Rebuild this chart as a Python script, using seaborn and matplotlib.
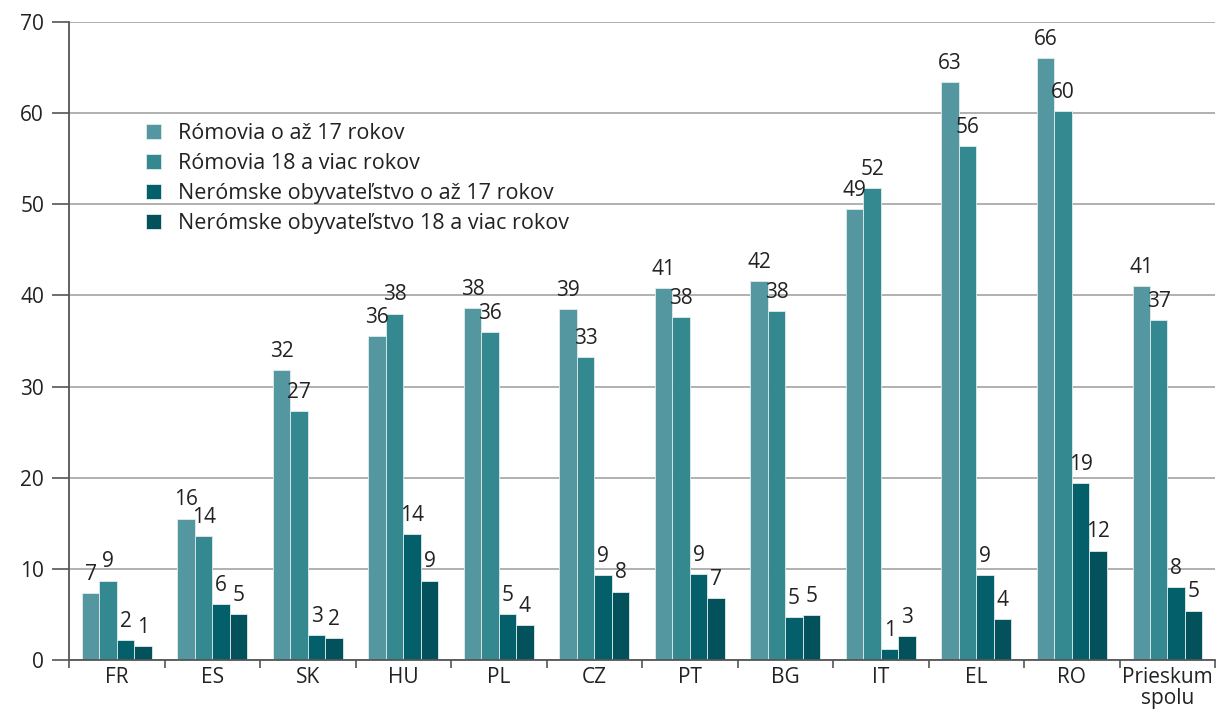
import pandas as pd
import matplotlib
matplotlib.use("Agg")
import matplotlib.pyplot as plt
import matplotlib.ticker as mticker
import seaborn as sns

# ------------------------------------------------------------
# DATA
# ------------------------------------------------------------
countries = ["FR", "ES", "SK", "HU", "PL", "CZ", "PT", "BG", "IT", "EL", "RO",
             "Prieskum\nspolu"]
series = ["Rómovia o až 17 rokov",
          "Rómovia 18 a viac rokov",
          "Nerómske obyvateľstvo o až 17 rokov",
          "Nerómske obyvateľstvo 18 a viac rokov"]

roma_child = [7.3, 15.5, 31.8, 35.5, 38.6, 38.5, 40.8, 41.6, 49.5, 63.4, 66.0, 41.0]
roma_adult = [8.7, 13.6, 27.3, 38.0, 36.0, 33.2, 37.6, 38.3, 51.8, 56.4, 60.2, 37.3]
non_child = [2.2, 6.1, 2.7, 13.8, 5.0, 9.3, 9.4, 4.7, 1.2, 9.3, 19.4, 8.0]
non_adult = [1.5, 5.0, 2.4, 8.7, 3.8, 7.5, 6.8, 4.9, 2.6, 4.5, 12.0, 5.4]

label_roma_child = [7, 16, 32, 36, 38, 39, 41, 42, 49, 63, 66, 41]
label_roma_adult = [9, 14, 27, 38, 36, 33, 38, 38, 52, 56, 60, 37]
label_non_child = [2, 6, 3, 14, 5, 9, 9, 5, 1, 9, 19, 8]
label_non_adult = [1, 5, 2, 9, 4, 8, 7, 5, 3, 4, 12, 5]

colors = ["#5597a0", "#348990", "#035f69", "#02515b"]

# long-form frame for seaborn
values = [roma_child, roma_adult, non_child, non_adult]
labels = [label_roma_child, label_roma_adult, label_non_child, label_non_adult]
rows = []
for s, vals in zip(series, values):
    for c, v in zip(countries, vals):
        rows.append({"country": c, "series": s, "value": v})
df = pd.DataFrame(rows)

# ------------------------------------------------------------
# STYLE
# ------------------------------------------------------------
sns.set_theme(style="white")
plt.rcParams["font.family"] = ["Open Sans", "DejaVu Sans"]
TEXT = "#222222"

fig = plt.figure(figsize=(12.2, 7.22), dpi=100)
ax = fig.add_axes([0.0566, 0.0859, 0.9394, 0.8836])

sns.barplot(
    data=df, x="country", y="value", hue="series",
    order=countries, hue_order=series, palette=colors, saturation=1,
    width=0.73, edgecolor="#e0ecec", linewidth=0.6,
    errorbar=None, ax=ax,
)

# value labels above the bars
for cont, lab in zip(ax.containers, labels):
    ax.bar_label(cont, labels=[str(v) for v in lab], padding=6,
                 fontsize=15, color=TEXT)

ax.set_ylim(0, 70)
ax.set_xlim(-0.5, len(countries) - 0.5)
ax.yaxis.set_major_locator(mticker.MultipleLocator(10))
ax.grid(axis="y", color="#aaaaaa", linewidth=1.3)
ax.set_axisbelow(True)

for side in ["top", "right"]:
    ax.spines[side].set_visible(False)
for side in ["left", "bottom"]:
    ax.spines[side].set_color("#555555")
    ax.spines[side].set_linewidth(1.3)

# y ticks stick out to the left
ax.tick_params(axis="y", which="major", length=12, width=1.2, color="#555555",
               labelsize=15, labelcolor=TEXT, pad=6, left=True)

# x: labels centred, tick marks between categories
ax.tick_params(axis="x", which="major", length=0, labelsize=15,
               labelcolor=TEXT, pad=5)
ax.xaxis.set_minor_locator(mticker.FixedLocator(
    [i + 0.5 for i in range(-1, len(countries))]))
ax.tick_params(axis="x", which="minor", length=6, width=1.2, color="#555555",
               bottom=True)
for t in ax.get_xticklabels():
    t.set_linespacing(1.0)

ax.set_xlabel("")
ax.set_ylabel("")

ax.legend(loc="upper left", bbox_to_anchor=(0.06, 0.855), frameon=False,
          fontsize=15.5, handlelength=0.7, handleheight=0.7,
          handletextpad=0.75, labelspacing=0.42, labelcolor=TEXT,
          borderaxespad=0)

plt.savefig("out.png", dpi=100)
